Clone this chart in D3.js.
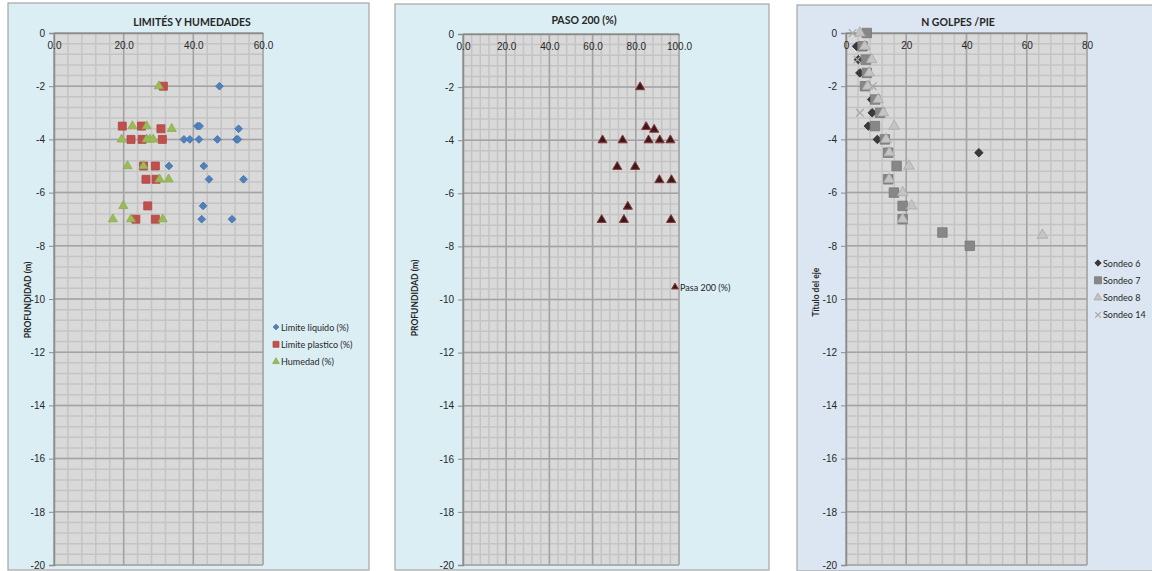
<!DOCTYPE html>
<html>
<head>
<meta charset="utf-8">
<script src="https://cdn.jsdelivr.net/npm/d3@7"></script>
<style>
  body { margin: 0; background: #fff; }
  svg { display: block; font-family: "Lato", "Open Sans", sans-serif; }
</style>
</head>
<body>
<div id="chart"></div>
<script>
// ---- data: [value, depth] ----
var limiteLiquido = [[47.5, -2], [41.2, -3.5], [41.8, -3.5], [53.0, -3.6], [37.3, -4], [39.0, -4], [41.6, -4],
    [46.9, -4], [52.4, -4], [52.8, -4], [33.0, -5], [43.0, -5], [44.5, -5.5], [54.4, -5.5], [42.8, -6.5],
    [42.4, -7], [51.1, -7]];
var limitePlastico = [[31.4, -2], [19.6, -3.5], [25.1, -3.5], [30.7, -3.6], [22.1, -4], [25.3, -4], [31.1, -4],
    [25.7, -5], [29.1, -5], [26.4, -5.5], [29.3, -5.5], [26.9, -6.5], [23.5, -7], [29.1, -7]];
var humedad = [[30.1, -2], [22.5, -3.5], [26.6, -3.5], [33.8, -3.6], [19.4, -4], [26.6, -4], [27.5, -4], [28.5, -4],
    [21.1, -5], [25.7, -5], [30.3, -5.5], [32.9, -5.5], [19.9, -6.5], [16.9, -7], [22.1, -7], [31.2, -7]];

var pasa200 = [[82.0, -2], [84.8, -3.5], [88.5, -3.6], [64.6, -4], [73.9, -4], [85.9, -4], [91.1, -4], [96.0, -4],
    [71.4, -5], [79.7, -5], [90.9, -5.5], [96.5, -5.5], [76.3, -6.5], [64.2, -7], [74.5, -7], [96.3, -7]];

var sondeo6 = [[3.5, -0.5], [4.1, -1], [4.6, -1.5], [8.5, -2.5], [8.7, -3], [7.4, -3.5], [10.4, -4], [44.1, -4.5]];
var sondeo7 = [[6.9, 0], [5.5, -0.5], [6.6, -1], [6.9, -1.5], [6.3, -2], [9.7, -2.5], [11.3, -3], [9.6, -3.5],
    [12.9, -4], [14.0, -4.5], [16.8, -5], [14.0, -5.5], [15.9, -6], [18.8, -6.5], [18.8, -7], [32.0, -7.5], [41.1, -8]];
var sondeo8 = [[4.6, 0], [6.2, -0.5], [8.5, -1], [7.7, -1.5], [7.2, -2], [10.7, -2.5], [12.4, -3], [16.0, -3.5],
    [13.3, -4], [14.4, -4.5], [20.9, -5], [14.3, -5.5], [18.8, -6], [21.8, -6.5], [18.8, -7], [65.2, -7.6]];
var sondeo14 = [[2.2, 0], [3.8, -1], [8.9, -2], [4.6, -3]];

var depthTicks = d3.range(0, -21, -2);

var w = 1152, h = 571;
var svg = d3.select("#chart").append("svg").attr("width", w).attr("height", h);

function drawPanel(cfg) {
    var g = svg.append("g");

    // panel background
    g.append("rect")
        .attr("x", cfg.box[0]).attr("y", cfg.box[1])
        .attr("width", cfg.box[2]).attr("height", cfg.box[3])
        .attr("fill", cfg.bg).attr("stroke", "#a6a6a6").attr("stroke-width", 1.2);

    var x = d3.scaleLinear().domain(cfg.xDomain).range([cfg.left, cfg.right]);
    var y = d3.scaleLinear().domain([0, -20]).range([cfg.top, cfg.bottom]);

    g.append("rect")
        .attr("x", cfg.left).attr("y", cfg.top)
        .attr("width", cfg.right - cfg.left).attr("height", cfg.bottom - cfg.top)
        .attr("fill", "#d9d9d9");

    // minor grid
    var xMinor = d3.range(cfg.xDomain[0], cfg.xDomain[1] + 0.01, cfg.xMinor);
    var yMinor = d3.range(0, -20.01, -0.4);
    g.selectAll(".vminor").data(xMinor).enter().append("line")
        .attr("x1", d => x(d)).attr("x2", d => x(d))
        .attr("y1", cfg.top).attr("y2", cfg.bottom)
        .attr("stroke", "#c4c4c4").attr("stroke-width", 1.5);
    g.selectAll(".hminor").data(yMinor).enter().append("line")
        .attr("x1", cfg.left).attr("x2", cfg.right)
        .attr("y1", d => y(d)).attr("y2", d => y(d))
        .attr("stroke", "#c4c4c4").attr("stroke-width", 1.5);

    // major grid
    var xMajor = d3.range(cfg.xDomain[0], cfg.xDomain[1] + 0.01, cfg.xMajor);
    g.selectAll(".vmajor").data(xMajor).enter().append("line")
        .attr("x1", d => x(d)).attr("x2", d => x(d))
        .attr("y1", cfg.top).attr("y2", cfg.bottom)
        .attr("stroke", "#a3a3a3").attr("stroke-width", 1.5);
    g.selectAll(".hmajor").data(depthTicks).enter().append("line")
        .attr("x1", cfg.left).attr("x2", cfg.right)
        .attr("y1", d => y(d)).attr("y2", d => y(d))
        .attr("stroke", "#a3a3a3").attr("stroke-width", 1.5);

    // y axis (left)
    var yAxis = d3.axisLeft(y).tickValues(depthTicks).tickSize(5).tickPadding(4)
        .tickFormat(d => String(d));
    var ya = g.append("g").attr("transform", "translate(" + cfg.left + ",0)").call(yAxis);
    ya.select(".domain").attr("stroke", "#8c8c8c").attr("stroke-width", 1.5);
    ya.selectAll(".tick line").attr("stroke", "#8c8c8c");
    ya.selectAll("text").attr("font-size", 10).attr("fill", "#262626");

    // x axis crossing at depth 0, labels drawn below the line
    var xAxis = d3.axisBottom(x).tickValues(xMajor).tickSize(0).tickPadding(9)
        .tickFormat(cfg.xFormat);
    var xa = g.append("g").attr("transform", "translate(0," + cfg.top + ")").call(xAxis);
    xa.select(".domain").attr("stroke", "#8c8c8c").attr("stroke-width", 1.5);
    xa.selectAll("text").attr("font-size", 10).attr("fill", "#262626");

    // title
    g.append("text")
        .attr("x", cfg.titleX).attr("y", cfg.titleY)
        .attr("text-anchor", "middle")
        .attr("font-size", 10.5).attr("font-weight", "bold").attr("fill", "#262626")
        .text(cfg.title);

    // y axis title
    g.append("text")
        .attr("transform", "translate(" + cfg.yTitleX + "," + cfg.yTitleY + ") rotate(-90)")
        .attr("text-anchor", "middle")
        .attr("font-size", 8.5).attr("font-weight", "bold").attr("fill", "#262626")
        .text(cfg.yTitle);

    // series
    cfg.series.forEach(function(s) {
        var sym = d3.symbol().type(s.symbol).size(s.size);
        g.selectAll(null).data(s.data).enter().append("path")
            .attr("d", sym)
            .attr("transform", d => "translate(" + x(d[0]) + "," + y(d[1]) + ")" + (s.rotate ? " rotate(45)" : ""))
            .attr("fill", s.fill)
            .attr("stroke", s.stroke)
            .attr("stroke-width", s.strokeWidth || 0.8);
    });

    // legend
    var lg = g.append("g");
    cfg.series.forEach(function(s, i) {
        var ly = cfg.legendY + i * cfg.legendDy;
        var sym = d3.symbol().type(s.symbol).size(s.size * 0.55);
        lg.append("path")
            .attr("d", sym)
            .attr("transform", "translate(" + cfg.legendX + "," + ly + ")" + (s.rotate ? " rotate(45)" : ""))
            .attr("fill", s.fill).attr("stroke", s.stroke).attr("stroke-width", s.strokeWidth || 0.8);
        lg.append("text")
            .attr("x", cfg.legendX + 5).attr("y", ly + 3.5)
            .attr("font-size", 9).attr("fill", "#262626")
            .text(s.name);
    });
}

drawPanel({
    box: [8, 3, 361, 567], bg: "#dbeef4",
    left: 54, right: 263, top: 33, bottom: 565,
    xDomain: [0, 60], xMajor: 20, xMinor: 4, xFormat: d3.format(".1f"),
    title: "LIMITÉS Y HUMEDADES", titleX: 192, titleY: 26,
    yTitle: "PROFUNDIDAD (m)", yTitleX: 31, yTitleY: 300,
    legendX: 276, legendY: 327, legendDy: 17.3,
    series: [
        { name: "Limite liquido (%)", data: limiteLiquido, symbol: d3.symbolSquare, size: 30, rotate: true, fill: "#4f81bd", stroke: "#4472a8" },
        { name: "Limite plastico (%)", data: limitePlastico, symbol: d3.symbolSquare, size: 64, fill: "#c0504d", stroke: "#b04542" },
        { name: "Humedad (%)", data: humedad, symbol: d3.symbolTriangle, size: 36, fill: "#9bbb59", stroke: "#8cad4c" }
    ]
});

drawPanel({
    box: [395, 4, 374, 566], bg: "#dbeef4",
    left: 463, right: 679, top: 34, bottom: 565,
    xDomain: [0, 100], xMajor: 20, xMinor: 4, xFormat: d3.format(".1f"),
    title: "PASO 200 (%)", titleX: 584, titleY: 24,
    yTitle: "PROFUNDIDAD (m)", yTitleX: 418, yTitleY: 298,
    legendX: 675, legendY: 287, legendDy: 17,
    series: [
        { name: "Pasa 200 (%)", data: pasa200, symbol: d3.symbolTriangle, size: 36, fill: "#3b1a1c", stroke: "#8a3a3a", strokeWidth: 1 }
    ]
});

drawPanel({
    box: [797, 5, 360, 566], bg: "#dce6f2",
    left: 846, right: 1087, top: 33, bottom: 565,
    xDomain: [0, 80], xMajor: 20, xMinor: 4, xFormat: d3.format("d"),
    title: "N GOLPES /PIE", titleX: 958, titleY: 26,
    yTitle: "Título del eje", yTitleX: 819, yTitleY: 292,
    legendX: 1098, legendY: 263, legendDy: 17.3,
    series: [
        { name: "Sondeo 6", data: sondeo6, symbol: d3.symbolSquare, size: 36, rotate: true, fill: "#3a3a3a", stroke: "#2a2a2a" },
        { name: "Sondeo 7", data: sondeo7, symbol: d3.symbolSquare, size: 90, fill: "#878787", stroke: "#777" },
        { name: "Sondeo 8", data: sondeo8, symbol: d3.symbolTriangle, size: 50, fill: "#c4c4c4", stroke: "#a8a8a8" },
        { name: "Sondeo 14", data: sondeo14, symbol: d3.symbolX, size: 40, fill: "none", stroke: "#a6a6a6", strokeWidth: 1.2 }
    ]
});
</script>
</body>
</html>
